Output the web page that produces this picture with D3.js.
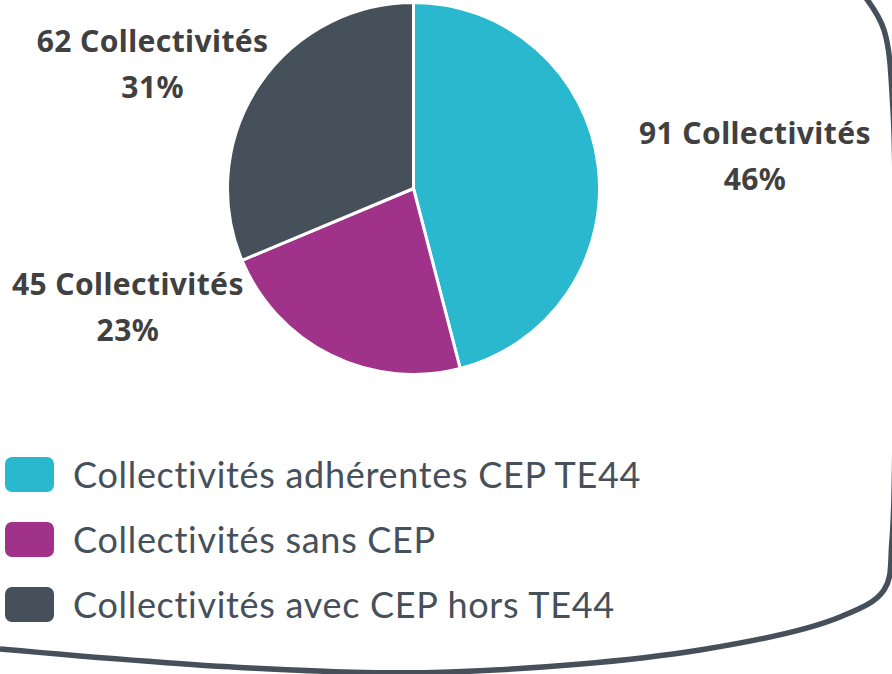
<!DOCTYPE html>
<html>
<head>
<meta charset="utf-8">
<script src="https://cdn.jsdelivr.net/npm/d3@7"></script>
<style>
  html, body { margin: 0; padding: 0; background: #fff; }
  svg { display: block; }
  text { font-variant-ligatures: none; }
</style>
</head>
<body>
<svg id="chart" width="892" height="674"></svg>
<script>
// data
const categories = ["Collectivités adhérentes CEP TE44", "Collectivités sans CEP", "Collectivités avec CEP hors TE44"];
const counts = [91, 45, 62];
const percents = ["46%", "23%", "31%"];
const colors = ["#29B8CD", "#A03289", "#46505B"];

// label nudges from the slice's outer edge (layout only)
const labelNudge = [[157, -7], [-203, -46], [-106, -19]];

const width = 892, height = 674;
const cx = 413.5, cy = 188.5, radius = 186;

const svg = d3.select("#chart");

// frame line on right / bottom
const framePts = [[866, -2], [884, 30], [893, 110], [895, 300], [892, 540], [884, 590], [840, 617], [700, 650], [450, 672], [250, 668], [0, 649]];
svg.append("path")
    .attr("d", d3.line().curve(d3.curveCatmullRom.alpha(0.5))(framePts))
    .attr("fill", "none")
    .attr("stroke", "#46505B")
    .attr("stroke-width", 5.5);

const pieData = categories.map((c, i) => ({ name: c, count: counts[i], pct: percents[i], color: colors[i] }));

const pie = d3.pie().sort(null).value(d => d.count);
const arc = d3.arc().innerRadius(0).outerRadius(radius);
const edgeArc = d3.arc().innerRadius(radius).outerRadius(radius);

const g = svg.append("g").attr("transform", `translate(${cx},${cy})`);

const arcs = pie(pieData);

g.selectAll(".slice")
    .data(arcs)
    .enter()
    .append("path")
    .attr("class", "slice")
    .attr("d", arc)
    .attr("fill", d => d.data.color)
    .attr("stroke", "#fff")
    .attr("stroke-width", 3)
    .attr("stroke-linejoin", "round");

// data labels
const labels = g.selectAll(".lbl")
    .data(arcs)
    .enter()
    .append("text")
    .attr("class", "lbl")
    .attr("text-anchor", "middle")
    .style("font-family", "'Noto Sans', sans-serif")
    .style("font-weight", "bold")
    .style("font-size", "30px")
    .style("letter-spacing", "0.4px")
    .attr("fill", "#404040");

labels.each(function (d, i) {
    const [x, y] = edgeArc.centroid(d);
    const lx = x + labelNudge[i][0], ly = y + labelNudge[i][1];
    const t = d3.select(this);
    t.append("tspan").attr("x", lx).attr("y", ly - 14).text(d.data.count + " Collectivités");
    t.append("tspan").attr("x", lx).attr("y", ly + 32).text(d.data.pct);
});

// legend
const legend = svg.append("g").attr("transform", "translate(5,457)");
const item = legend.selectAll(".item")
    .data(pieData)
    .enter()
    .append("g")
    .attr("class", "item")
    .attr("transform", (d, i) => `translate(0,${i * 65})`);

item.append("rect")
    .attr("width", 49)
    .attr("height", 35)
    .attr("rx", 7)
    .attr("fill", d => d.color);

item.append("text")
    .attr("x", 68)
    .attr("y", 31)
    .style("font-family", "Lato, sans-serif")
    .style("font-size", "36px")
    .style("letter-spacing", "0.7px")
    .attr("fill", "#46505B")
    .text(d => d.name);
</script>
</body>
</html>
